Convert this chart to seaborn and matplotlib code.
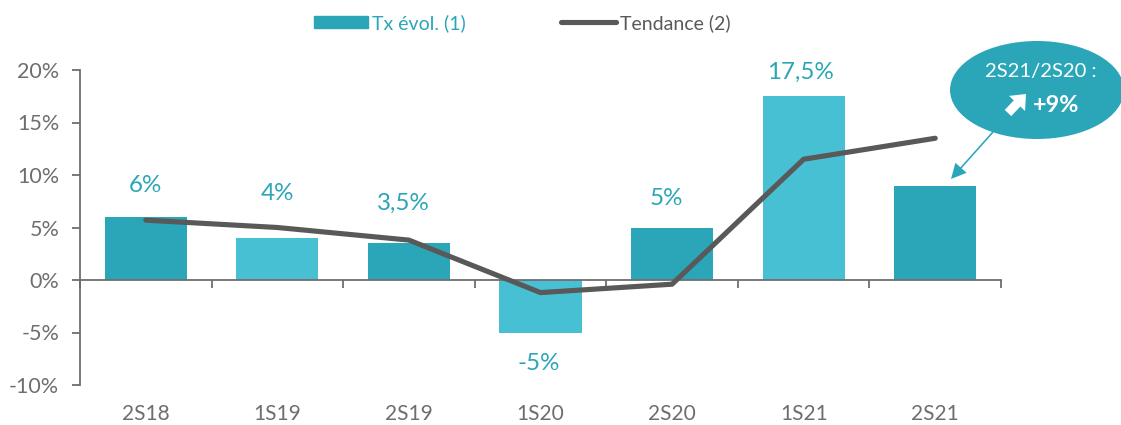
import matplotlib
matplotlib.use("Agg")
import matplotlib.pyplot as plt
from matplotlib.lines import Line2D
from matplotlib.patches import Ellipse, Patch, FancyArrow
from matplotlib.transforms import Affine2D
import pandas as pd
import seaborn as sns

periods = ["2S18", "1S19", "2S19", "1S20", "2S20", "1S21", "2S21"]
tx_evol = [6, 4, 3.5, -5, 5, 17.5, 9]
tendance = [5.7, 5.0, 3.8, -1.2, -0.4, 11.5, 13.5]
bar_labels = ["6%", "4%", "3,5%", "-5%", "5%", "17,5%", None]

DARK = "#2AA6B8"
LIGHT = "#48C0D4"
GREY = "#6E6E6E"
LINE = "#595959"

sns.set_style("white")
plt.rcParams["font.family"] = ["Lato", "DejaVu Sans"]

df = pd.DataFrame({"periode": periods, "tx": tx_evol, "tendance": tendance})

W, H = 1121, 425
fig = plt.figure(figsize=(W / 100, H / 100), dpi=100)
ax = fig.add_axes([80 / W, 1 - 385 / H, 921 / W, 315 / H])
px = Affine2D().scale(1, -1).translate(0, H)  # coordonnees pixels, origine en haut

sns.barplot(data=df, x="periode", y="tx", hue="periode", palette=[DARK, LIGHT] * 3 + [DARK],
            width=0.625, legend=False, saturation=1, linewidth=0, ax=ax)
sns.lineplot(data=df, x="periode", y="tendance", color=LINE, lw=3.7, sort=False,
             solid_capstyle="round", ax=ax, zorder=5)

ax.set_xlim(-0.5, 6.5)
ax.set_ylim(-10, 20)
ax.set_xlabel("")
ax.set_ylabel("")

# axes
for s in ["top", "right"]:
    ax.spines[s].set_visible(False)
for s in ["left", "bottom"]:
    ax.spines[s].set_color(GREY)
    ax.spines[s].set_linewidth(1.3)
ax.spines["bottom"].set_position(("data", 0))

ax.set_yticks(range(-10, 25, 5))
ax.set_yticklabels([f"{v}%" for v in range(-10, 25, 5)])
ax.tick_params(axis="y", left=True, length=6, width=1.3, color=GREY, labelcolor=GREY,
               labelsize=15.5, pad=9)
ax.set_xticks(range(7))
ax.set_xticklabels(periods)
ax.tick_params(axis="x", which="major", bottom=False, labelcolor=GREY, labelsize=15, pad=86)
ax.set_xticks([i - 0.5 for i in range(8)], minor=True)
ax.tick_params(axis="x", which="minor", bottom=True, length=5.5, width=1.3, color=GREY)

# etiquettes des barres
dx = [0, 0, -4, -1, -4, -2]
dy = [23, 32, 29, -22, 21, 17]
for i, (val, lab) in enumerate(zip(tx_evol, bar_labels)):
    if lab is None:
        continue
    ax.annotate(lab, (i, val), xytext=(dx[i], dy[i]),
                textcoords="offset points", ha="center", va="center",
                color=DARK, fontsize=17.4)

# legende
handles = [Patch(color=DARK), Line2D([0], [0], color=LINE, lw=3.7, solid_capstyle="round")]
fig.legend(handles, ["Tx évol. (1)", "Tendance (2)"], ncols=2, frameon=False, fontsize=14,
           labelcolor=[DARK, LINE], handlelength=2.8, handleheight=0.62, handletextpad=0.2,
           columnspacing=4.9, loc="center", bbox_to_anchor=(522 / W, 1 - 23 / H))

# bulle
fig.add_artist(Ellipse((1037, 90), 174, 98, color=DARK, transform=px, lw=0, zorder=6))
fig.text(1041 / W, 1 - 72 / H, "2S21/2S20 :", color="white", fontsize=14.6, ha="center",
         va="center", zorder=7)
fig.text(1056 / W, 1 - 106 / H, "+9%", color="white", fontsize=16.8, fontweight="bold",
         ha="center", va="center", zorder=7)
fig.add_artist(FancyArrow(1008, 113, 18, -19, width=9, head_width=22, head_length=13,
                          length_includes_head=True, color="white", lw=0, transform=px, zorder=7))
# fleche vers la barre
fig.add_artist(FancyArrow(993, 132, -42, 47, width=1.6, head_width=15, head_length=15,
                          length_includes_head=True, color=DARK, lw=0, transform=px, zorder=6))

fig.savefig("out.png", dpi=100)
